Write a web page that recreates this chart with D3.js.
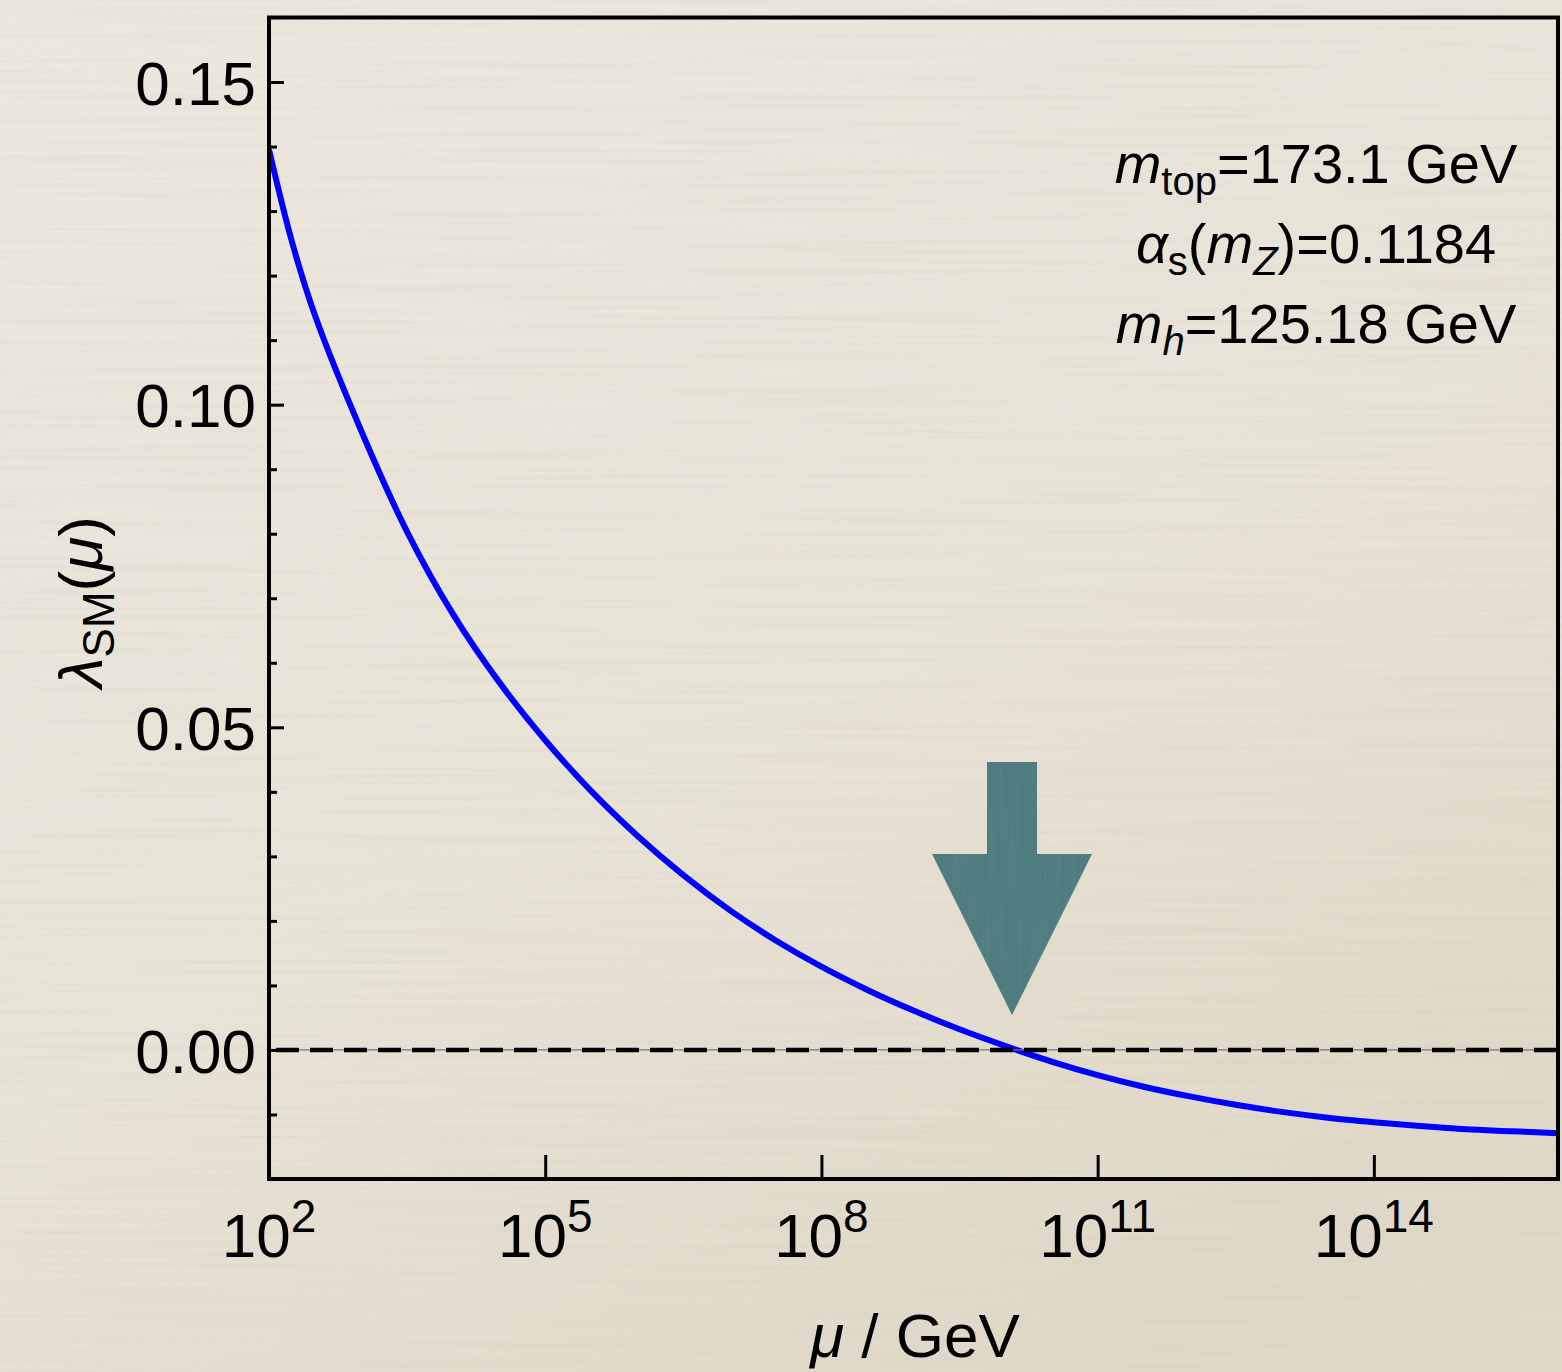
<!DOCTYPE html>
<html>
<head>
<script src="https://d3js.org/d3.v7.min.js"></script>
<style>
    body { margin: 0; background: #e9e5da; overflow: hidden; }
    svg text { font-family: "Liberation Sans", Arial, sans-serif; fill: #000; }
</style>
</head>
<body>
<div id="chart"></div>
<script>
// log10(mu / GeV) and the running quartic coupling
let logMu    = [2, 2.25, 2.5, 3, 3.5, 4, 4.5, 5, 5.5, 6, 6.5, 7, 7.5, 8, 8.5, 9, 9.5, 10, 10.5, 11, 11.5, 12, 12.5, 13, 13.5, 14, 14.5, 15, 15.5, 16];
let lambdaSM = [0.1395, 0.1252, 0.1138, 0.0960, 0.0803, 0.0675, 0.0570, 0.0480, 0.0401, 0.0332, 0.0271, 0.0217, 0.0170, 0.0129, 0.0093, 0.0061, 0.0032, 0.0006, -0.0018, -0.0039, -0.0057, -0.0072, -0.0085, -0.0096, -0.0105, -0.0112, -0.0118, -0.0123, -0.0126, -0.0129];

let xTickPowers = [2, 5, 8, 11, 14];
let yMajorTicks = [0, 0.05, 0.10, 0.15];
let yMinorTicks = [-0.01, 0.01, 0.02, 0.03, 0.04, 0.06, 0.07, 0.08, 0.09, 0.11, 0.12, 0.13, 0.14];

// where lambda crosses zero (arrow tip sits just above it)
let zeroCrossing = {logMu: 10.07, lambda: 0.0054};

let width = 1562;
let height = 1372;
let plotLeft = 269, plotRight = 1558, plotTop = 17.5, plotBottom = 1179;

let svg = d3.select("#chart").append("svg")
    .attr("width", width)
    .attr("height", height);

let defs = svg.append("defs");
let grad = defs.append("linearGradient")
    .attr("id", "bg")
    .attr("x1", 0).attr("y1", 0).attr("x2", 0.6).attr("y2", 1);
grad.append("stop").attr("offset", 0).attr("stop-color", "#ece8df");
grad.append("stop").attr("offset", 0.6).attr("stop-color", "#e8e3d7");
grad.append("stop").attr("offset", 1).attr("stop-color", "#e0d9c9");

let paper = defs.append("filter").attr("id", "paper")
    .attr("x", 0).attr("y", 0).attr("width", 1).attr("height", 1);
paper.append("feTurbulence")
    .attr("type", "fractalNoise")
    .attr("baseFrequency", "0.003 0.2")
    .attr("numOctaves", 3)
    .attr("seed", 7);
paper.append("feColorMatrix")
    .attr("type", "matrix")
    .attr("values", "0 0 0 0 0.6  0 0 0 0 0.55  0 0 0 0 0.45  0.4 0 0 0 -0.17");

let streak = defs.append("filter").attr("id", "streak")
    .attr("x", 0).attr("y", 0).attr("width", 1).attr("height", 1);
streak.append("feTurbulence")
    .attr("type", "fractalNoise")
    .attr("baseFrequency", "0.25 0.01")
    .attr("numOctaves", 2)
    .attr("seed", 3);
streak.append("feColorMatrix")
    .attr("type", "matrix")
    .attr("values", "0 0 0 0 0.2  0 0 0 0 0.35  0 0 0 0 0.36  0.5 0 0 0 -0.2");
streak.append("feComposite").attr("in2", "SourceGraphic").attr("operator", "in");

svg.append("rect")
    .attr("width", width).attr("height", height)
    .attr("fill", "url(#bg)");
svg.append("rect")
    .attr("width", width).attr("height", height)
    .attr("filter", "url(#paper)");

let x = d3.scaleLog()
    .domain([1e2, 1e16])
    .range([plotLeft, plotRight]);

let y = d3.scaleLinear()
    .domain([-0.02, 0.16])
    .range([plotBottom, plotTop]);

defs.append("clipPath").attr("id", "plot")
    .append("rect")
    .attr("x", plotLeft).attr("y", plotTop)
    .attr("width", plotRight - plotLeft).attr("height", plotBottom - plotTop);

// curve
let line = d3.line()
    .curve(d3.curveCatmullRom.alpha(0.5))
    .x((d, i) => x(Math.pow(10, logMu[i])))
    .y(d => y(d));

svg.append("path")
    .attr("clip-path", "url(#plot)")
    .attr("fill", "none")
    .attr("stroke", "#0000ff")
    .attr("stroke-width", 6)
    .attr("d", line(lambdaSM));

// zero line
svg.append("line")
    .attr("x1", plotLeft).attr("x2", plotRight)
    .attr("y1", y(0)).attr("y2", y(0))
    .attr("stroke", "#777")
    .attr("stroke-width", 1.2);
svg.append("line")
    .attr("x1", plotLeft).attr("x2", plotRight)
    .attr("y1", y(0)).attr("y2", y(0))
    .attr("stroke", "#000")
    .attr("stroke-width", 4.5)
    .attr("stroke-dasharray", "23 11")
    .attr("stroke-dashoffset", 27);

// arrow pointing at the zero crossing
let tipX = x(Math.pow(10, zeroCrossing.logMu));
let tipY = y(zeroCrossing.lambda);
let arrowPts = [
    [tipX - 25, tipY - 253], [tipX + 25, tipY - 253], [tipX + 25, tipY - 161],
    [tipX + 80, tipY - 161], [tipX, tipY], [tipX - 80, tipY - 161], [tipX - 25, tipY - 161]
];
let arrowG = svg.append("g");
arrowG.append("polygon")
    .attr("points", arrowPts.map(p => p.join(",")).join(" "))
    .attr("fill", "#4f7c7f");
arrowG.append("polygon")
    .attr("points", arrowPts.map(p => p.join(",")).join(" "))
    .attr("fill", "#4f7c7f")
    .attr("filter", "url(#streak)")
    .attr("opacity", 0.6);

// axes
let fontSize = 62;

svg.append("g")
    .attr("transform", `translate(${plotLeft},0)`)
    .call(d3.axisLeft(y).tickValues(yMinorTicks).tickSize(-8).tickFormat(""))
    .call(g => g.select(".domain").remove())
    .call(g => g.selectAll("line").attr("stroke", "#000").attr("stroke-width", 3));

svg.append("g")
    .attr("transform", `translate(${plotLeft},0)`)
    .call(d3.axisLeft(y).tickValues(yMajorTicks).tickSize(-15).tickPadding(13).tickFormat(d3.format(".2f")))
    .call(g => g.select(".domain").remove())
    .call(g => g.selectAll("line").attr("stroke", "#000").attr("stroke-width", 3))
    .call(g => g.selectAll("text")
        .attr("font-size", fontSize)
        .attr("font-family", "Liberation Sans, Arial, sans-serif")
        .attr("fill", "#000")
        .attr("dy", "0.36em"));

svg.append("g")
    .attr("transform", `translate(0,${plotBottom})`)
    .call(d3.axisBottom(x).tickValues(xTickPowers.map(p => Math.pow(10, p))).tickSize(-24).tickFormat(""))
    .call(g => g.select(".domain").remove())
    .call(g => g.selectAll("line").attr("stroke", "#000").attr("stroke-width", 3));

let xLabels = svg.append("g")
    .selectAll("text")
    .data(xTickPowers)
    .join("text")
    .attr("x", d => x(Math.pow(10, d)))
    .attr("y", plotBottom + 78)
    .attr("text-anchor", "middle")
    .attr("font-size", fontSize);
xLabels.append("tspan").text("10");
xLabels.append("tspan")
    .attr("font-size", 46)
    .attr("dy", -25)
    .text(d => d);

// frame
svg.append("rect")
    .attr("x", plotLeft).attr("y", plotTop)
    .attr("width", plotRight - plotLeft).attr("height", plotBottom - plotTop)
    .attr("fill", "none")
    .attr("stroke", "#000")
    .attr("stroke-width", 4);

// axis titles
let xTitle = svg.append("text")
    .attr("x", 915)
    .attr("y", 1357)
    .attr("text-anchor", "middle")
    .attr("font-size", fontSize);
xTitle.append("tspan").attr("font-style", "italic").text("μ");
xTitle.append("tspan").text(" / GeV");

let yTitle = svg.append("text")
    .attr("transform", "translate(102,602) rotate(-90)")
    .attr("text-anchor", "middle")
    .attr("font-size", fontSize);
yTitle.append("tspan").attr("font-style", "italic").text("λ");
yTitle.append("tspan").attr("font-size", 44).attr("dy", 12).text("SM");
yTitle.append("tspan").attr("dy", -12).text("(");
yTitle.append("tspan").attr("font-style", "italic").text("μ");
yTitle.append("tspan").text(")");

// parameter annotation
let annX = 1316, annSize = 56, subSize = 40;

let a1 = svg.append("text").attr("x", annX).attr("y", 183).attr("text-anchor", "middle").attr("font-size", annSize);
a1.append("tspan").attr("font-style", "italic").text("m");
a1.append("tspan").attr("font-size", subSize).attr("dy", 12).text("top");
a1.append("tspan").attr("dy", -12).text("=173.1 GeV");

let a2 = svg.append("text").attr("x", annX).attr("y", 263).attr("text-anchor", "middle").attr("font-size", annSize);
a2.append("tspan").attr("font-style", "italic").text("α");
a2.append("tspan").attr("font-size", subSize).attr("dy", 12).text("s");
a2.append("tspan").attr("dy", -12).text("(");
a2.append("tspan").attr("font-style", "italic").text("m");
a2.append("tspan").attr("font-style", "italic").attr("font-size", subSize).attr("dy", 12).text("Z");
a2.append("tspan").attr("dy", -12).text(")=0.1184");

let a3 = svg.append("text").attr("x", annX).attr("y", 343).attr("text-anchor", "middle").attr("font-size", annSize);
a3.append("tspan").attr("font-style", "italic").text("m");
a3.append("tspan").attr("font-style", "italic").attr("font-size", subSize).attr("dy", 12).text("h");
a3.append("tspan").attr("dy", -12).text("=125.18 GeV");
</script>
</body>
</html>
